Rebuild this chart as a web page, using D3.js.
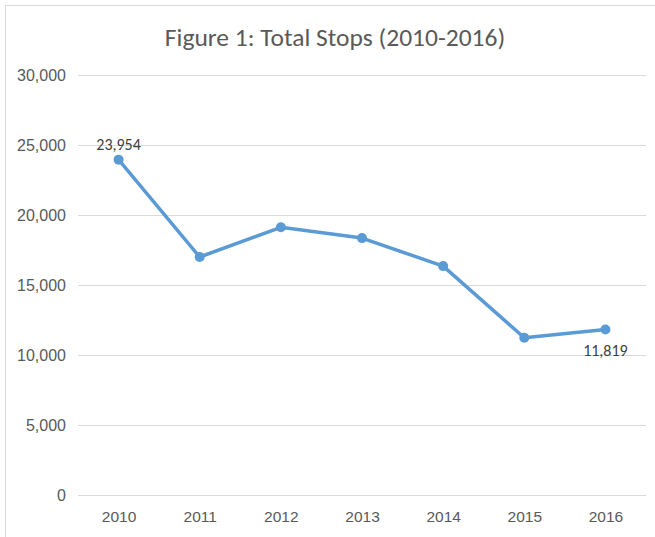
<!DOCTYPE html>
<html>
<head>
<meta charset="utf-8">
<script src="https://cdn.jsdelivr.net/npm/d3@7"></script>
<style>
  body { margin: 0; background: #fff; }
  svg { display: block; font-family: Calibri, Carlito, Lato, "Open Sans", "Liberation Sans", sans-serif; }
</style>
</head>
<body>
<svg id="chart" width="655" height="537"></svg>
<script>
// chart data
var years = ["2010", "2011", "2012", "2013", "2014", "2015", "2016"];
var stops = [23954, 17000, 19120, 18350, 16350, 11230, 11819];
var yTicks = [0, 5000, 10000, 15000, 20000, 25000, 30000];
var labelled = ["2010", "2016"];

var svg = d3.select("#chart");
var margin = {top: 75, right: 9, bottom: 42, left: 78};
var width = 655 - margin.left - margin.right;
var height = 537 - margin.top - margin.bottom;

// outer frame (only left/top visible)
svg.append("rect")
    .attr("x", 5.5).attr("y", 5.5)
    .attr("width", 700).attr("height", 600)
    .attr("fill", "none")
    .attr("stroke", "#d9d9d9");

svg.append("text")
    .attr("x", 335).attr("y", 46)
    .attr("text-anchor", "middle")
    .attr("font-size", 25.5)
    .attr("fill", "#595959")
    .text("Figure 1: Total Stops (2010-2016)");

var g = svg.append("g").attr("transform", "translate(" + margin.left + "," + margin.top + ")");

var x = d3.scalePoint().domain(years).range([0, width]).padding(0.5);
var y = d3.scaleLinear().domain([0, 30000]).range([height, 0]);

var yAxis = g.append("g")
    .call(d3.axisLeft(y).tickValues(yTicks).tickSize(-width).tickPadding(12).tickFormat(d3.format(",")));
yAxis.select(".domain").remove();
yAxis.selectAll("line").attr("stroke", "#d9d9d9");
yAxis.selectAll("text").attr("fill", "#595959").attr("font-size", 16).attr("font-family", null);

var xAxis = g.append("g")
    .attr("transform", "translate(0," + height + ")")
    .call(d3.axisBottom(x).tickSize(0).tickPadding(16));
xAxis.select(".domain").remove();
xAxis.selectAll("text").attr("fill", "#595959").attr("font-size", 15.5).attr("font-family", null);

var pts = years.map(function (d, i) { return {year: d, value: stops[i]}; });

g.append("path")
    .datum(pts)
    .attr("fill", "none")
    .attr("stroke", "#5b9bd5")
    .attr("stroke-width", 3.5)
    .attr("stroke-linejoin", "round")
    .attr("d", d3.line().x(function (d) { return x(d.year); }).y(function (d) { return y(d.value); }));

g.selectAll("circle.pt")
    .data(pts)
    .enter().append("circle")
    .attr("class", "pt")
    .attr("cx", function (d) { return x(d.year); })
    .attr("cy", function (d) { return y(d.value); })
    .attr("r", 5)
    .attr("fill", "#5b9bd5");

g.selectAll("text.lbl")
    .data(pts.filter(function (d) { return labelled.indexOf(d.year) >= 0; }))
    .enter().append("text")
    .attr("class", "lbl")
    .attr("x", function (d) { return x(d.year); })
    .attr("y", function (d, i) { return y(d.value) + (i === 0 ? -10 : 26); })
    .attr("text-anchor", "middle")
    .attr("font-size", 16)
    .attr("fill", "#404040")
    .text(function (d) { return d3.format(",")(d.value); });
</script>
</body>
</html>
